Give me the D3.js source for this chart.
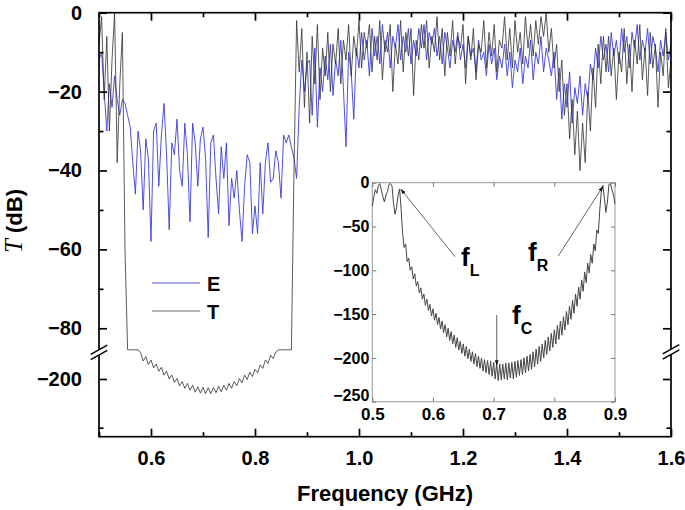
<!DOCTYPE html>
<html>
<head>
<meta charset="utf-8">
<script src="https://cdn.jsdelivr.net/npm/d3@7"></script>
<style>
  html, body { margin: 0; padding: 0; background: #fff; }
  svg { display: block; }
  text { font-family: "Liberation Sans", Arial, sans-serif; font-weight: bold; fill: #000; }
</style>
</head>
<body>
<svg id="chart" width="685" height="510"></svg>
<script>
// ---------------- DATA ----------------
const freqStart = 0.5;
const freqStep = 0.005;          // main plot sample spacing (GHz)
const insetStart = 0.5;
const insetStep = 0.0025;        // inset sample spacing (GHz)

const seriesNames = ["E", "T"];

// E (blue) transmission, dB, 0.5 .. 1.6 GHz
const eMain = [
  -12,-10,-20,-30,-18,-24,-16,-22,-26,-22,
  -23,-26,-29,-38,-46,-30,-35,-50,-32,-37,
  -58,-30,-28,-44,-31,-23,-36,-55,-33,-36,
  -27,-40,-44,-28,-36,-53,-28,-33,-44,-32,
  -29,-37,-57,-33,-31,-42,-51,-34,-42,-33,
  -54,-42,-47,-40,-50,-58,-44,-36,-38,-56,
  -49,-56,-38,-51,-38,-33,-43,-42,-35,-38,
  -47,-31,-33,-31,-34,-37,-42,-24,-12,-20,-13,
  -12,-26,-9,-29,-14,-20,-11,-17,-8,-21,
  -12,-16,-7,-19,-34,-10,-15,-27,-9,-14,
  -5,-12,-7,-16,-4,-11,-6,-13,-3,-10,
  -5,-14,-6,-9,-3,-12,-6,-10,-4,-13,
  -7,-11,-4,-9,-3,-12,-5,-8,-4,-11,
  -6,-13,-5,-9,-14,-7,-10,-5,-12,-8,
  -14,-6,-11,-9,-15,-7,-12,-10,-16,-8,
  -13,-9,-17,-11,-14,-8,-16,-10,-19,-12,
  -15,-9,-18,-11,-14,-7,-17,-10,-13,-6,
  -15,-9,-12,-16,-10,-22,-14,-27,-18,-24,
  -15,-28,-19,-23,-16,-26,-18,-22,-13,-17,
  -9,-14,-6,-12,-8,-15,-5,-11,-7,-13,
  -4,-10,-6,-14,-5,-9,-3,-12,-7,-10,
  -4,-13,-6,-9,-15,-7,-11,-5,-12,-8
];

// T (black) transmission, dB, 0.5 .. 1.6 GHz (stop band drawn on the broken lower axis)
const tMain = [
  -8,-1,-22,-6,-30,-12,0,-38,-18,-5,-60,
  -140,-140,-140,-140,-140,
  -146,-163,-154,-170,-161,-177,-169,-184,-176,-192,
  -184,-200,-192,-207,-199,-214,-205,-219,-209,-223,
  -213,-227,-216,-229,-217,-230,-218,-230,-217,-228,
  -215,-226,-213,-223,-209,-219,-205,-214,-199,-208,
  -192,-201,-186,-195,-180,-187,-171,-178,-161,-168,
  -151,-158,-145,
  -140,-140,-140,-140,-140,-140,
  -40,
  -2,-15,-4,-24,-10,-28,-6,-18,-3,-22,
  -9,-16,-5,-20,-8,-13,-4,-18,-7,-12,
  -3,-16,-6,-11,-2,-14,-5,-9,-3,-15,
  -6,-12,-2,-17,-7,-10,-3,-20,-8,-13,
  -2,-15,-5,-11,-4,-21,-7,-12,-3,-9,
  -2,-14,-6,-10,-1,-12,-4,-16,-5,-11,
  -2,-13,-6,-9,-3,-18,-6,-12,-4,-17,
  -8,-10,-2,-14,-5,-11,-3,-15,-7,-9,
  -1,-12,-4,-14,-2,-10,-5,-13,-1,-9,
  -3,-11,-2,-8,-1,-6,0,-10,-4,-14,
  -8,-20,-12,-26,-18,-32,-22,-36,-25,-40,
  -28,-38,-20,-30,-14,-24,-8,-18,-6,-15,
  -6,-16,-9,-22,-10,-15,-4,-18,-8,-20,
  -7,-13,-3,-17,-9,-21,-5,-14,-8,-24,
  -10,-16,-4,-19,-12
];

// Inset: T in dB, 0.5 .. 0.9 GHz
const tInset = [
  -27,-16,-8,-12,-3,-1,-9,-16,-22,-14,
  -10,-2,-1,-4,-24,-36,-28,-14,-7,-30,
  -58,-74,-70,-90,-86,-100,-96,-110,-104,-118,
  -113,-126,-120,-133,-127,-140,-133,-146,-139,-152,
  -144,-157,-149,-162,-154,-167,-158,-171,-162,-176,
  -166,-180,-170,-184,-174,-188,-177,-191,-181,-195,
  -184,-198,-187,-201,-190,-204,-193,-207,-195,-210,
  -198,-212,-200,-215,-202,-217,-203,-219,-204,-221,
  -205,-224,-206,-226,-207,-225,-207,-224,-206,-225,
  -206,-223,-205,-224,-204,-222,-203,-220,-202,-219,
  -200,-217,-198,-215,-196,-213,-193,-210,-190,-207,
  -187,-204,-184,-200,-180,-196,-176,-192,-172,-188,
  -168,-184,-163,-179,-158,-174,-153,-168,-147,-162,
  -141,-156,-134,-149,-127,-141,-119,-133,-111,-124,
  -102,-114,-92,-103,-82,-92,-70,-78,-54,-58,
  -30,-10,-3,-18,-34,-22,-2,-1,-8,-14,
  -24
];

// Tick values / labels
const xTickMajor = [0.6, 0.8, 1.0, 1.2, 1.4, 1.6];
const xTickMinor = [0.5, 0.7, 0.9, 1.1, 1.3, 1.5];
const yTickMajorUpper = [0, -20, -40, -60, -80];
const yTickMinorUpper = [-10, -30, -50, -70];
const yTickMajorLower = [-200];
const yTickMinorLower = [-300];
const insetXTicks = [0.5, 0.6, 0.7, 0.8, 0.9];
const insetYTicks = [0, -50, -100, -150, -200, -250];

// ---------------- DRAW ----------------
const svg = d3.select("#chart");
const L = 99, R = 671, T = 12.7, B = 436.7;

const x = d3.scaleLinear().domain([0.5, 1.6]).range([L, R]);
// broken y axis: upper 0..-85 dB, lower -140..-318.5 dB
const y = d3.scaleLinear().domain([0, -85, -140, -318.5]).range([T, 348, 349.8, B]);

const mainE = eMain.map((v, i) => ({ f: freqStart + i * freqStep, v }));
const mainT = tMain.map((v, i) => ({ f: freqStart + i * freqStep, v }));
const insetT = tInset.map((v, i) => ({ f: insetStart + i * insetStep, v }));

const line = d3.line().x(d => x(d.f)).y(d => y(d.v));

svg.append("defs").append("clipPath").attr("id", "clip")
  .append("rect").attr("x", L).attr("y", T).attr("width", R - L).attr("height", B - T);

const plot = svg.append("g").attr("clip-path", "url(#clip)");
plot.append("path").datum(mainE).attr("d", line)
  .attr("fill", "none").attr("stroke", "#3c3cdc").attr("stroke-width", 0.9);
plot.append("path").datum(mainT).attr("d", line)
  .attr("fill", "none").attr("stroke", "#333").attr("stroke-width", 0.9).attr("stroke-opacity", 0.9);

// frame
svg.append("rect").attr("x", L).attr("y", T).attr("width", R - L).attr("height", B - T)
  .attr("fill", "none").attr("stroke", "#000").attr("stroke-width", 1.7);

function tickG(axis) { return svg.append("g").call(axis).call(g => g.select(".domain").remove()); }

// bottom axis
const xb = tickG(d3.axisBottom(x).tickValues(xTickMajor).tickSize(-8).tickFormat(d3.format(".1f")).tickPadding(14))
  .attr("transform", `translate(0,${B})`);
xb.selectAll("text").attr("font-size", 20).attr("font-family", "Liberation Sans, Arial, sans-serif").attr("font-weight", "bold").attr("fill", "#000");
xb.selectAll("line").attr("stroke-width", 1.7);
tickG(d3.axisBottom(x).tickValues(xTickMinor).tickSize(-4.5).tickFormat(""))
  .attr("transform", `translate(0,${B})`).selectAll("line").attr("stroke-width", 1.7);
// top axis
tickG(d3.axisTop(x).tickValues(xTickMajor).tickSize(-8).tickFormat(""))
  .attr("transform", `translate(0,${T})`).selectAll("line").attr("stroke-width", 1.7);
tickG(d3.axisTop(x).tickValues(xTickMinor).tickSize(-4.5).tickFormat(""))
  .attr("transform", `translate(0,${T})`).selectAll("line").attr("stroke-width", 1.7);

// left axis
const yl = tickG(d3.axisLeft(y).tickValues(yTickMajorUpper.concat(yTickMajorLower)).tickSize(-8).tickPadding(17).tickFormat(d3.format("d")))
  .attr("transform", `translate(${L},0)`);
yl.selectAll("text").attr("font-size", 20).attr("font-family", "Liberation Sans, Arial, sans-serif").attr("font-weight", "bold").attr("fill", "#000");
yl.selectAll("line").attr("stroke-width", 1.7);
tickG(d3.axisLeft(y).tickValues(yTickMinorUpper.concat(yTickMinorLower)).tickSize(-4.5).tickFormat(""))
  .attr("transform", `translate(${L},0)`).selectAll("line").attr("stroke-width", 1.7);
// right axis
tickG(d3.axisRight(y).tickValues(yTickMajorUpper.concat(yTickMajorLower)).tickSize(-8).tickFormat(""))
  .attr("transform", `translate(${R},0)`).selectAll("line").attr("stroke-width", 1.7);
tickG(d3.axisRight(y).tickValues(yTickMinorUpper.concat(yTickMinorLower)).tickSize(-4.5).tickFormat(""))
  .attr("transform", `translate(${R},0)`).selectAll("line").attr("stroke-width", 1.7);

// axis breaks
function axisBreak(cx, cy) {
  const w = 8.3, s = 4.6, gap = 5.3;
  svg.append("path")
    .attr("d", `M${cx - w},${cy + s} L${cx + w},${cy - s} L${cx + w},${cy - s + gap} L${cx - w},${cy + s + gap} Z`)
    .attr("fill", "#fff");
  [0, gap].forEach(o => svg.append("line")
    .attr("x1", cx - w).attr("y1", cy + s + o).attr("x2", cx + w).attr("y2", cy - s + o)
    .attr("stroke", "#000").attr("stroke-width", 1.5));
}
axisBreak(L, 349.7);
axisBreak(R, 349.2);

// axis titles
svg.append("text").attr("x", (L + R) / 2).attr("y", 501).attr("text-anchor", "middle")
  .attr("font-size", 22).text("Frequency (GHz)");
const yt = svg.append("text").attr("transform", "translate(22,221) rotate(-90)").attr("text-anchor", "middle")
  .attr("font-size", 22);
yt.append("tspan").attr("font-family", "Liberation Serif, serif").attr("font-style", "italic")
  .attr("font-weight", "normal").attr("font-size", 25).text("T");
yt.append("tspan").text(" (dB)");

// legend
const legend = [
  { name: seriesNames[0], color: "#5555e0", y: 283 },
  { name: seriesNames[1], color: "#666", y: 311 }
];
legend.forEach(d => {
  svg.append("line").attr("x1", 152).attr("x2", 200).attr("y1", d.y).attr("y2", d.y)
    .attr("stroke", d.color).attr("stroke-width", 1);
  svg.append("text").attr("x", 207).attr("y", d.y + 8).attr("font-size", 20).text(d.name);
});

// ---------------- INSET ----------------
const xi = d3.scaleLinear().domain([0.5, 0.9]).range([372.3, 615]);
const yi = d3.scaleLinear().domain([0, -250]).range([182.7, 401.7]);
const ins = svg.append("g");
ins.append("rect").attr("x", 372.3).attr("y", 182.7).attr("width", 615 - 372.3).attr("height", 401.7 - 182.7)
  .attr("fill", "#fff").attr("stroke", "#999").attr("stroke-width", 1);
ins.append("path").datum(insetT)
  .attr("d", d3.line().x(d => xi(d.f)).y(d => yi(d.v)))
  .attr("fill", "none").attr("stroke", "#444").attr("stroke-width", 1);

function insTicks(axis, tr) {
  const g = ins.append("g").attr("transform", tr).call(axis);
  g.select(".domain").remove();
  g.selectAll("line").attr("stroke", "#777");
  return g;
}
const ixb = insTicks(d3.axisBottom(xi).tickValues(insetXTicks).tickSize(-4).tickPadding(6).tickFormat(d3.format(".1f")), "translate(0,401.7)");
ixb.selectAll("text").attr("font-size", 17).attr("font-family", "Liberation Sans, Arial, sans-serif").attr("font-weight", "bold").attr("fill", "#000");
const iyl = insTicks(d3.axisLeft(yi).tickValues(insetYTicks).tickSize(-4).tickPadding(3).tickFormat(d3.format("d")), "translate(372.3,0)");
iyl.selectAll("text").attr("font-size", 16).attr("font-family", "Liberation Sans, Arial, sans-serif").attr("font-weight", "bold").attr("fill", "#000")
  .attr("dy", d => d === -250 ? "-0.05em" : "0.32em");
insTicks(d3.axisTop(xi).tickValues(insetXTicks).tickSize(-4).tickFormat(""), "translate(0,182.7)");
insTicks(d3.axisRight(yi).tickValues(insetYTicks).tickSize(-4).tickFormat(""), "translate(615,0)");

// annotations
const defs = svg.select("defs");
defs.append("marker").attr("id", "arr").attr("viewBox", "0 0 10 10").attr("refX", 9).attr("refY", 5)
  .attr("markerWidth", 6).attr("markerHeight", 6).attr("orient", "auto")
  .append("path").attr("d", "M0,1.5 L10,5 L0,8.5 Z").attr("fill", "#111");
const arrows = [
  { x1: 455, y1: 256.7, x2: 401, y2: 189.3 },
  { x1: 558.3, y1: 256, x2: 602.7, y2: 186.7 },
  { x1: 496.7, y1: 315, x2: 496.7, y2: 365 }
];
arrows.forEach(a => svg.append("line").attr("x1", a.x1).attr("y1", a.y1).attr("x2", a.x2).attr("y2", a.y2)
  .attr("stroke", "#555").attr("stroke-width", 0.9).attr("marker-end", "url(#arr)"));
const labels = [
  { x: 461, y: 266, sub: "L" },
  { x: 528, y: 261, sub: "R" },
  { x: 512, y: 324, sub: "C" }
];
labels.forEach(l => {
  const t = svg.append("text").attr("x", l.x).attr("y", l.y).attr("font-size", 26).text("f");
  t.append("tspan").attr("font-size", 16).attr("dy", 10).text(l.sub);
});
</script>
</body>
</html>
